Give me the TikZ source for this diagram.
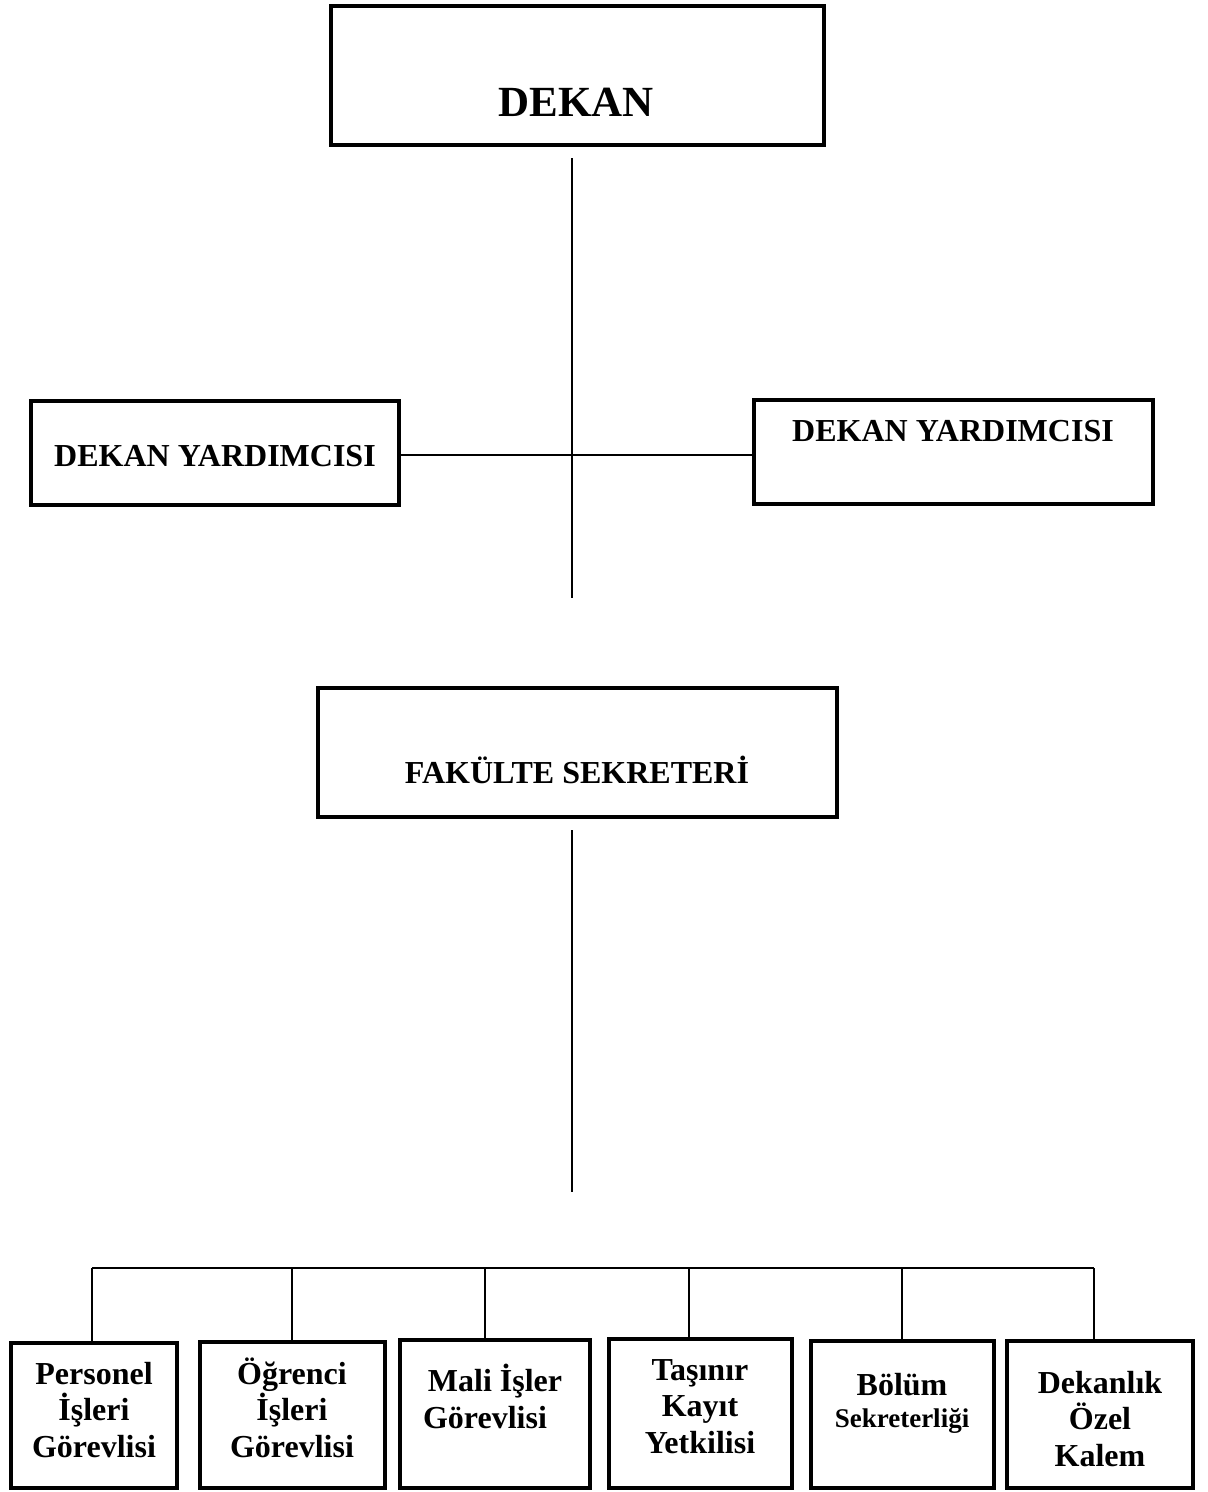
\documentclass[tikz,border=0pt]{standalone}
\usepackage{fontspec}
\setmainfont{Liberation Serif}
\begin{document}
\begin{tikzpicture}[x=1pt,y=-1pt,
  bigbox/.style={draw=black,line width=4.8pt,rectangle,inner sep=0pt,outer sep=0pt,line join=miter},
  conn/.style={draw=black,line width=1.4pt},
  txt/.style={inner sep=0pt,outer sep=0pt,anchor=base,align=center,font=\bfseries\fontsize{32}{36.5}\selectfont}]
\useasboundingbox (0,0) rectangle (1208,1492);
% boxes
\node[bigbox,minimum width=493pt,minimum height=139pt] (dekan) at (577.5,75.5) {};
\node[bigbox,minimum width=368pt,minimum height=104pt] (dyl) at (215,453) {};
\node[bigbox,minimum width=399pt,minimum height=104pt] (dyr) at (953.5,452) {};
\node[bigbox,minimum width=519pt,minimum height=129pt] (fs) at (577.5,752.5) {};
\node[bigbox,minimum width=166pt,minimum height=145pt] (b1) at (94,1415.5) {};
\node[bigbox,minimum width=185pt,minimum height=146pt] (b2) at (292.5,1415) {};
\node[bigbox,minimum width=190pt,minimum height=148pt] (b3) at (495,1414) {};
\node[bigbox,minimum width=183pt,minimum height=149pt] (b4) at (700.5,1413.5) {};
\node[bigbox,minimum width=183pt,minimum height=147pt] (b5) at (902.5,1414.5) {};
\node[bigbox,minimum width=186pt,minimum height=147pt] (b6) at (1100,1414.5) {};
% texts
\node[txt,font=\bfseries\fontsize{43}{50}\selectfont] (tdekan) at (576,116) {DEKAN};
\node[txt] (tdyl) at (215,466) {DEKAN YARDIMCISI};
\node[txt] (tdyr) at (953,441) {DEKAN YARDIMCISI};
\node[txt] (tfs) at (577,783) {FAKÜLTE SEKRETERİ};
\node[txt] (t1) at (94,1457) {Personel\\İşleri\\Görevlisi};
\node[txt] (t2) at (292,1457) {Öğrenci\\İşleri\\Görevlisi};
\node[txt] (t3) at (490,1428) {\hspace*{10pt}Mali İşler\\Görevlisi\hspace*{10pt}};
\node[txt] (t4) at (700,1453) {Taşınır\\Kayıt\\Yetkilisi};
\node[txt] (t5) at (902,1427) {Bölüm\\[-5pt]{\fontsize{27}{30}\selectfont Sekreterliği}};
\node[txt] (t6) at (1100,1466) {Dekanlık\\Özel\\Kalem};
% connectors
\coordinate (v1a) at (572,158);
\coordinate (v1b) at (572,598);
\coordinate (v2a) at (572,830);
\coordinate (v2b) at (572,1192);
\draw[conn] (v1a) -- (v1b);
\draw[conn] (dyl.east |- 0,455) -- (dyr.west |- 0,455);
\draw[conn] (v2a) -- (v2b);
\coordinate (d1) at (92,1268);
\coordinate (d2) at (292,1268);
\coordinate (d3) at (485,1268);
\coordinate (d4) at (689,1268);
\coordinate (d5) at (902,1268);
\coordinate (d6) at (1094,1268);
\draw[conn] (d1) -- (d6);
\draw[conn] (d1) -- (d1 |- b1.north);
\draw[conn] (d2) -- (d2 |- b2.north);
\draw[conn] (d3) -- (d3 |- b3.north);
\draw[conn] (d4) -- (d4 |- b4.north);
\draw[conn] (d5) -- (d5 |- b5.north);
\draw[conn] (d6) -- (d6 |- b6.north);
\end{tikzpicture}
\end{document}
